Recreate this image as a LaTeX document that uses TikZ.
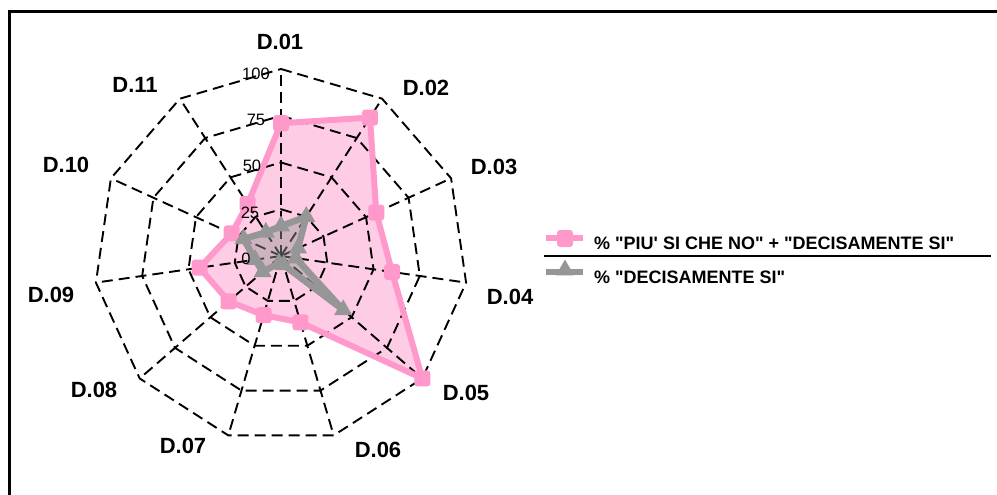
\documentclass[tikz,border=0pt]{standalone}
\usepackage{fontspec}
\newfontfamily\lsans{Liberation Sans}
\usetikzlibrary{shapes.geometric}
\definecolor{pinkline}{RGB}{255,153,204}
\definecolor{pinkfill}{RGB}{255,204,229}
\definecolor{grayline}{RGB}{150,150,150}
\begin{document}
\begin{tikzpicture}[x=1pt,y=-1pt,
  grid/.style={black, line width=1.9pt, dash pattern=on 11pt off 6pt},
  axlabel/.style={font=\lsans\fontsize{22}{26}\selectfont\bfseries, inner sep=0pt},
  ticklabel/.style={font=\lsans\fontsize{16.5}{19}\selectfont, inner sep=0pt},
  legtext/.style={font=\lsans\fontsize{18}{21}\selectfont\bfseries, inner sep=0pt, anchor=base west},
  sqmark/.style={rectangle, rounded corners=3pt, fill=pinkline, minimum size=16pt, inner sep=0pt},
  trimark/.style={regular polygon, regular polygon sides=3, fill=grayline, minimum size=21pt, inner sep=0pt},
  pinkser/.style={pinkline, line width=6pt, line join=round},
  grayser/.style={grayline, line width=6.5pt, line join=round}]

\useasboundingbox (0,0) rectangle (997,495);
\fill[white] (0,0) rectangle (997,495);
\draw[line width=3pt] (9.5,495) -- (9.5,11.5) -- (997,11.5);

\begin{scope}[shift={(281,256)}, yscale=-1]
  \coordinate (C) at (0,0);
  \foreach \v [count=\i from 0] in {71,88,56,60,100,37,33,37,44,29,33}
    \coordinate (p\i) at ({90-\i*360/11}:{\v*1.87});
  \foreach \v [count=\i from 0] in {16,25,10,8,44,5,4,13,14,22,15}
    \coordinate (g\i) at ({90-\i*360/11}:{\v*1.87});
  \fill[pinkfill] (p0) -- (p1) -- (p2) -- (p3) -- (p4) -- (p5) -- (p6) -- (p7) -- (p8) -- (p9) -- (p10) -- cycle;
  \foreach \r in {46.75,93.5,140.25,187}
    \draw[grid] (90:\r) \foreach \i in {1,...,10}{ -- ({90-\i*360/11}:\r)} -- cycle;
  \foreach \i in {0,...,10}
    \draw[grid] (C) -- ({90-\i*360/11}:187);
  \draw[pinkser] (p0) -- (p1) -- (p2) -- (p3) -- (p4) -- (p5) -- (p6) -- (p7) -- (p8) -- (p9) -- (p10) -- cycle;
  \filldraw[grayser, fill=grayline, fill opacity=0.45] (g0) -- (g1) -- (g2) -- (g3) -- (g4) -- (g5) -- (g6) -- (g7) -- (g8) -- (g9) -- (g10) -- cycle;
  \foreach \i in {0,...,10}
    \node[sqmark] (pm\i) at (p\i) {};
  \foreach \i in {0,...,10}
    \node[trimark] (gm\i) at (g\i) {};
\end{scope}

\node[ticklabel] (t100) at (256,74) {100};
\node[ticklabel] (t75) at (256,120) {75};
\node[ticklabel] (t50) at (252,166) {50};
\node[ticklabel] (t25) at (250,213) {25};
\node[ticklabel] (t0) at (246,259) {0};

\node[axlabel] (d01) at (280,42) {D.01};
\node[axlabel] (d02) at (426,88) {D.02};
\node[axlabel] (d03) at (494,167) {D.03};
\node[axlabel] (d04) at (510,297) {D.04};
\node[axlabel] (d05) at (466,393) {D.05};
\node[axlabel] (d06) at (378,450) {D.06};
\node[axlabel] (d07) at (183,446) {D.07};
\node[axlabel] (d08) at (94,390) {D.08};
\node[axlabel] (d09) at (51,295) {D.09};
\node[axlabel] (d10) at (66,165) {D.10};
\node[axlabel] (d11) at (135,85) {D.11};

\coordinate (l1a) at (546,238);
\coordinate (l1b) at (583,238);
\draw[pinkline, line width=6.5pt] (l1a) -- (l1b);
\node[sqmark, minimum width=16pt, minimum height=17pt] (lm1) at (565,238.5) {};
\node[legtext] (lt1) at (594,249) {\% "PIU' SI CHE NO" + "DECISAMENTE SI"};
\coordinate (sa) at (544,256);
\coordinate (sb) at (991,256);
\draw[line width=1.5pt] (sa) -- (sb);
\coordinate (l2a) at (546,272);
\coordinate (l2b) at (583,272);
\draw[grayline, line width=6.5pt] (l2a) -- (l2b);
\node[trimark] (lm2) at (565,270) {};
\node[legtext] (lt2) at (594,283) {\% "DECISAMENTE SI"};
\end{tikzpicture}
\end{document}
